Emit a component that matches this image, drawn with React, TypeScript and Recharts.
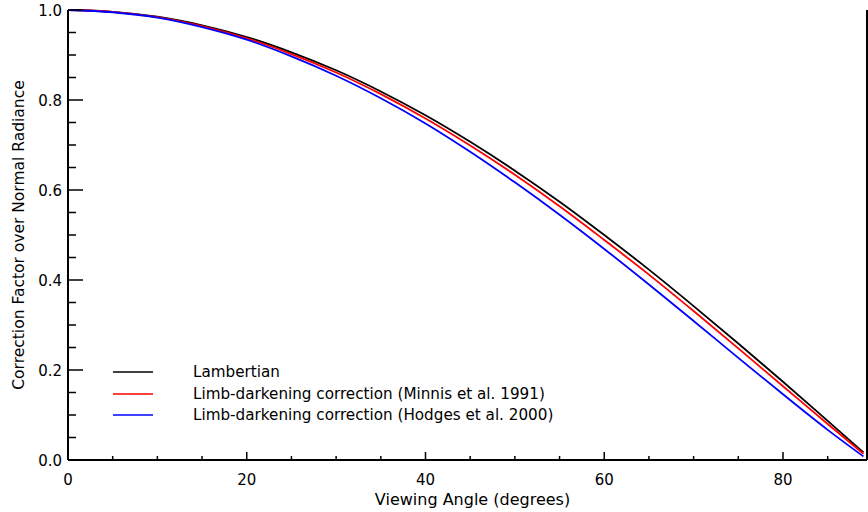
import React from 'react';
import { LineChart, Line, XAxis, YAxis, Legend } from 'recharts';

// Viewing angle (degrees) at which each curve is sampled
const angles = [0, 5, 10, 15, 20, 25, 30, 35, 40, 45, 50, 55, 60, 65, 70, 75, 80, 85, 89];

// Correction factor relative to the normal (nadir) radiance
const lambertian = [1.0, 0.996, 0.985, 0.966, 0.94, 0.906, 0.866, 0.819, 0.766, 0.707, 0.643, 0.574, 0.5, 0.423, 0.342, 0.259, 0.174, 0.087, 0.017];
const minnis = [1.0, 0.996, 0.984, 0.964, 0.937, 0.902, 0.861, 0.813, 0.759, 0.699, 0.634, 0.564, 0.489, 0.412, 0.331, 0.248, 0.164, 0.08, 0.014];
const hodges = [1.0, 0.995, 0.983, 0.962, 0.934, 0.897, 0.854, 0.804, 0.748, 0.685, 0.617, 0.545, 0.469, 0.39, 0.309, 0.227, 0.146, 0.067, 0.008];

// Axis ticks (major ones get labels)
const xTicks = [0, 5, 10, 15, 20, 25, 30, 35, 40, 45, 50, 55, 60, 65, 70, 75, 80, 85];
const yTicks = [0, 0.05, 0.1, 0.15, 0.2, 0.25, 0.3, 0.35, 0.4, 0.45, 0.5, 0.55, 0.6, 0.65, 0.7, 0.75, 0.8, 0.85, 0.9, 0.95, 1.0];

const seriesKeys = ['lambertian', 'minnis', 'hodges'];
const seriesNames = [
  'Lambertian',
  'Limb-darkening correction (Minnis et al. 1991)',
  'Limb-darkening correction (Hodges et al. 2000)',
];
const seriesColors = ['#000000', '#ff0000', '#0000ff'];

const data = angles.map((a, i) => ({
  angle: a,
  lambertian: lambertian[i],
  minnis: minnis[i],
  hodges: hodges[i],
}));

const FONT = '"DejaVu Sans", sans-serif';

const isMajorX = (v: number) => Math.abs(v / 20 - Math.round(v / 20)) < 1e-6;
const isMajorY = (v: number) => Math.abs(v * 5 - Math.round(v * 5)) < 1e-6;

const BottomTick = (props: any) => {
  const { x, y, payload } = props;
  const v = payload.value;
  const major = isMajorX(v);
  return (
    <g>
      <line x1={x} x2={x} y1={y} y2={y - (major ? 8 : 4)} stroke="#000" strokeWidth={1.5} />
      {major && (
        <text x={x} y={y + 25} textAnchor="middle" fontFamily={FONT} fontSize={15} fill="#000">
          {v}
        </text>
      )}
    </g>
  );
};

const TopTick = (props: any) => {
  const { x, y, payload } = props;
  const major = isMajorX(payload.value);
  return <line x1={x} x2={x} y1={y} y2={y + (major ? 8 : 4)} stroke="#000" strokeWidth={1.5} />;
};

const LeftTick = (props: any) => {
  const { x, y, payload } = props;
  const v = payload.value;
  const major = isMajorY(v);
  return (
    <g>
      <line x1={x} x2={x + (major ? 15 : 8)} y1={y} y2={y} stroke="#000" strokeWidth={1.5} />
      {major && (
        <text x={x - 6} y={y + 6} textAnchor="end" fontFamily={FONT} fontSize={15} fill="#000">
          {v.toFixed(1)}
        </text>
      )}
    </g>
  );
};

const RightTick = (props: any) => {
  const { x, y, payload } = props;
  const major = isMajorY(payload.value);
  return <line x1={x} x2={x - (major ? 15 : 8)} y1={y} y2={y} stroke="#000" strokeWidth={1.5} />;
};

const XTitle = (props: any) => {
  const vb = props.viewBox;
  return (
    <text x={vb.x + vb.width / 2 + 5} y={505} textAnchor="middle" fontFamily={FONT} fontSize={16} fill="#000">
      Viewing Angle (degrees)
    </text>
  );
};

const YTitle = (props: any) => {
  const vb = props.viewBox;
  const cy = vb.y + vb.height / 2;
  return (
    <text
      x={24}
      y={cy}
      transform={`rotate(-90, 24, ${cy})`}
      textAnchor="middle"
      fontFamily={FONT}
      fontSize={15.5}
      fill="#000"
    >
      Correction Factor over Normal Radiance
    </text>
  );
};

const LegendBox = () => (
  <div style={{ position: 'relative', width: 868, height: 0, fontFamily: FONT, fontSize: 15.2, color: '#000' }}>
    {seriesNames.map((name, i) => (
      <div
        key={name}
        style={{
          position: 'absolute',
          left: 113,
          top: 372 + i * 21.5 - 9,
          height: 18,
          display: 'flex',
          alignItems: 'center',
          whiteSpace: 'nowrap',
        }}
      >
        <svg width={40} height={2} style={{ display: 'block' }}>
          <line x1={0} x2={40} y1={1} y2={1} stroke={seriesColors[i]} strokeWidth={1.5} />
        </svg>
        <span style={{ marginLeft: 40, lineHeight: '18px' }}>{name}</span>
      </div>
    ))}
  </div>
);

export default function App() {
  return (
    <div style={{ position: 'absolute', left: 0, top: 0, width: 868, height: 512, background: '#fff' }}>
      <LineChart width={868} height={512} data={data} margin={{ top: 10, right: 0, bottom: 0, left: 0 }}>
        <XAxis
          dataKey="angle"
          type="number"
          domain={[0, 89.4]}
          allowDataOverflow
          ticks={xTicks}
          interval={0}
          tickSize={0}
          tickMargin={0}
          tickLine={false}
          axisLine={{ stroke: '#000', strokeWidth: 2 }}
          tick={<BottomTick />}
          height={52}
          label={{ content: XTitle }}
        />
        <XAxis
          xAxisId="top"
          orientation="top"
          type="number"
          domain={[0, 89.4]}
          allowDataOverflow
          ticks={xTicks}
          interval={0}
          tickSize={0}
          tickMargin={0}
          tickLine={false}
          axisLine={{ stroke: '#000', strokeWidth: 2 }}
          tick={<TopTick />}
          height={0}
        />
        <YAxis
          type="number"
          domain={[0, 1]}
          ticks={yTicks}
          interval={0}
          tickSize={0}
          tickMargin={0}
          tickLine={false}
          axisLine={{ stroke: '#000', strokeWidth: 2 }}
          tick={<LeftTick />}
          width={68}
          label={{ content: YTitle }}
        />
        <YAxis
          yAxisId="right"
          orientation="right"
          type="number"
          domain={[0, 1]}
          ticks={yTicks}
          interval={0}
          tickSize={0}
          tickMargin={0}
          tickLine={false}
          axisLine={{ stroke: '#000', strokeWidth: 2 }}
          tick={<RightTick />}
          width={1}
        />
        <Legend
          layout="horizontal"
          verticalAlign="middle"
          content={<LegendBox />}
          wrapperStyle={{ left: 0, top: 0, width: 868, height: 0 }}
        />
        {seriesKeys.map((k, i) => (
          <Line
            key={k}
            dataKey={k}
            name={seriesNames[i]}
            type="monotone"
            stroke={seriesColors[i]}
            strokeWidth={1.8}
            dot={false}
            activeDot={false}
            isAnimationActive={false}
          />
        ))}
      </LineChart>
    </div>
  );
}
